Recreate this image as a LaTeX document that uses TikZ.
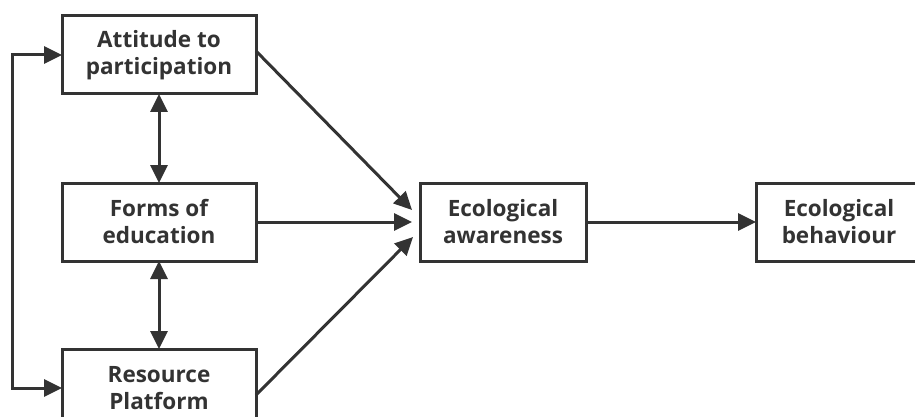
\documentclass[tikz,border=0pt]{standalone}
\usepackage{fontspec}
\setmainfont{Open Sans}
\usetikzlibrary{arrows.meta,calc}
\definecolor{ink}{HTML}{333333}
\tikzset{
  box/.style={draw=ink, line width=3pt, fill=white, minimum width=194pt, minimum height=78pt,
    inner sep=0pt, outer sep=0pt, align=center, text=ink,
    font=\fontsize{22.5}{27}\selectfont\bfseries},
  conn/.style={draw=ink, line width=3pt, -{Triangle[length=18pt,width=17pt]}},
  dconn/.style={draw=ink, line width=3pt, {Triangle[length=18pt,width=17pt]}-{Triangle[length=18pt,width=17pt]}},
}
\begin{document}
\begin{tikzpicture}[x=1pt,y=-1pt]
\useasboundingbox (0,0) rectangle (915,417);
\clip (0,0) rectangle (915,417);
\fill[white] (0,0) rectangle (915,417);
\node[box] (att) at (159,55) {Attitude to\\participation};
\node[box] (form) at (159,222) {Forms of\\education};
\node[box] (res) at (159,388) {Resource\\Platform};
\node[box, minimum width=166pt] (aw) at (503,222) {Ecological\\awareness};
\node[box, minimum width=166pt] (beh) at (839,222) {Ecological\\behaviour};
\draw[dconn] (att.south) -- (form.north);
\draw[dconn] (form.south) -- (res.north);
\draw[dconn] (att.west) -- ++(-50,0) |- (res.west);
\draw[conn] ($(att.east)+(0,-4)$) -- ($(aw.west)+(-8,-12)$);
\draw[conn] (form.east) -- ($(aw.west)+(-8,0)$);
\draw[conn] ($(res.east)+(0,7)$) -- ($(aw.west)+(-7,15)$);
\draw[conn] (aw.east) -- (beh.west);
\end{tikzpicture}
\end{document}
